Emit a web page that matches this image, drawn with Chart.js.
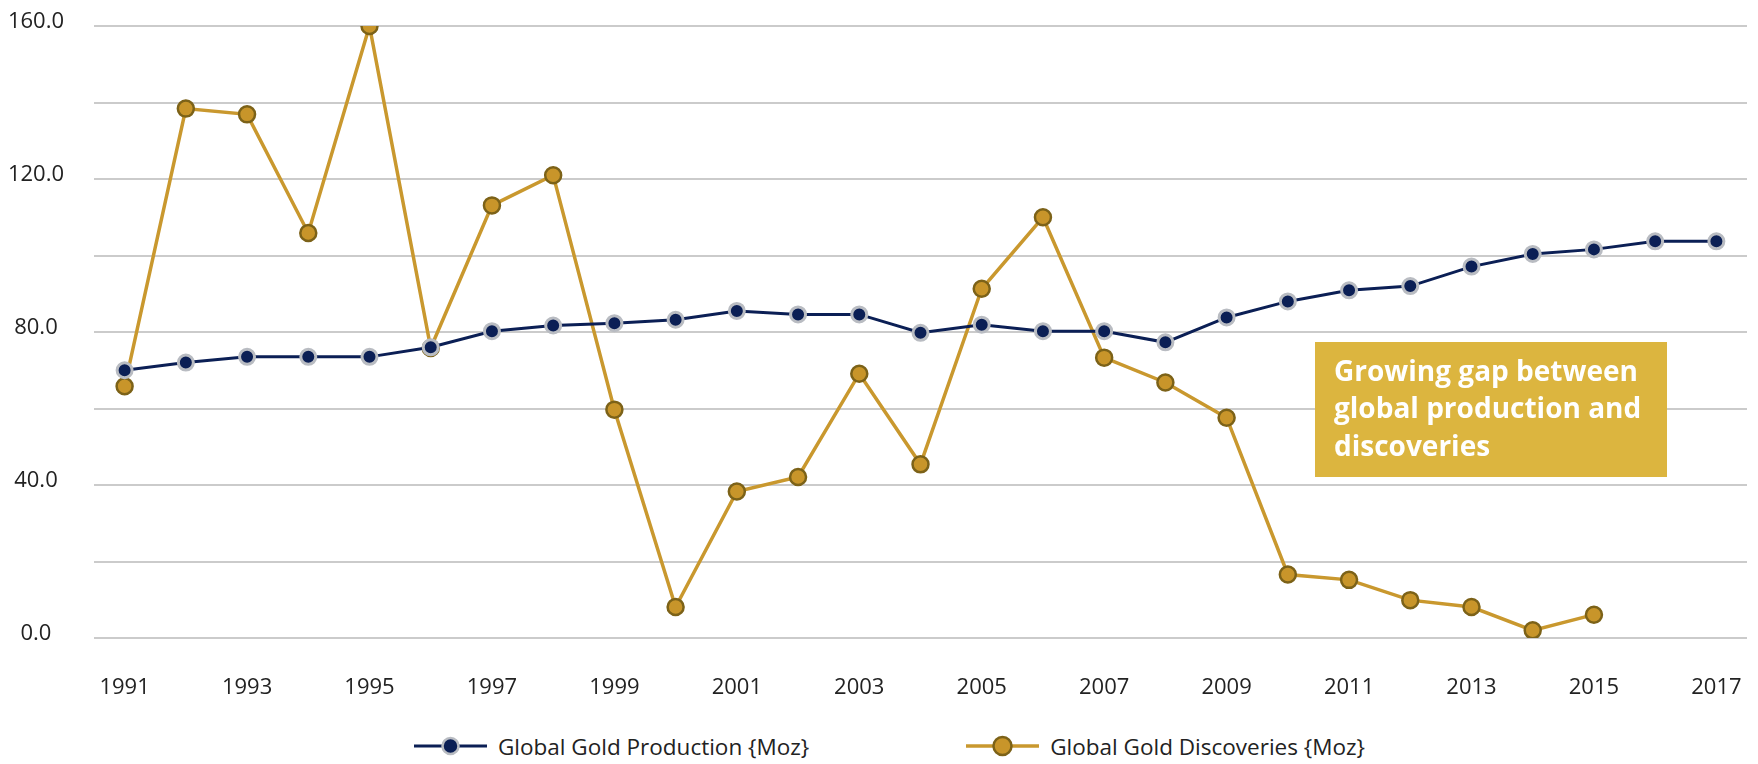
<!DOCTYPE html>
<html>
<head>
<meta charset="utf-8">
<script src="https://cdn.jsdelivr.net/npm/chart.js@4.4.1/dist/chart.umd.min.js"></script>
<style>
html, body { margin: 0; padding: 0; background: #fff; }
#wrap { position: relative; width: 1758px; height: 764px; font-family: "Open Sans", sans-serif; }
#box { position: absolute; left: 0; top: 0; width: 1758px; height: 716px; }
#legend { position: absolute; left: 0; top: 731px; width: 1758px; height: 30px;
  display: flex; justify-content: center; align-items: center; gap: 157px; padding-left: 21px; box-sizing: border-box;
  font-size: 22.5px; color: #222; }
#legend .item { display: flex; align-items: center; }
#legend canvas { margin-right: 11px; }
</style>
</head>
<body>
<div id="wrap">
  <div id="box"><canvas id="chart1"></canvas></div>
  <div id="legend"></div>
</div>
<script>
const years = ['1991', '1992', '1993', '1994', '1995', '1996', '1997', '1998', '1999', '2000',
    '2001', '2002', '2003', '2004', '2005', '2006', '2007', '2008', '2009', '2010',
    '2011', '2012', '2013', '2014', '2015', '2016', '2017'];

// Global Gold Production {Moz}
const production = [70.0, 72.0, 73.5, 73.5, 73.5, 76.0, 80.2, 81.7, 82.3, 83.2,
    85.5, 84.6, 84.6, 79.8, 81.9, 80.2, 80.2, 77.3, 83.8, 88.0,
    90.9, 92.0, 97.1, 100.4, 101.6, 103.7, 103.7];

// Global Gold Discoveries {Moz} (no figure for 2016 / 2017)
const discoveries = [65.8, 138.4, 136.9, 105.9, 160.0, 75.8, 113.1, 121.0, 59.7, 8.1,
    38.3, 42.1, 69.1, 45.4, 91.3, 110.0, 73.3, 66.8, 57.6, 16.6,
    15.2, 9.9, 8.1, 2.0, 6.1, null, null];

const seriesNames = ['Global Gold Production {Moz}', 'Global Gold Discoveries {Moz}'];
const yMax = 160;
const yLabelStep = 40;
const noteLines = ['Growing gap between', 'global production and', 'discoveries'];

const navy = '#0b1f55';
const gold = '#c9982e';

function legendMarker(lineColor, fill, border, radius, lineWidth) {
    const c = document.createElement('canvas');
    c.width = 73;
    c.height = 24;
    const g = c.getContext('2d');
    g.strokeStyle = lineColor;
    g.lineWidth = lineWidth;
    g.beginPath();
    g.moveTo(0, 12);
    g.lineTo(73, 12);
    g.stroke();
    g.beginPath();
    g.arc(36.5, 12, radius, 0, Math.PI * 2);
    g.fillStyle = fill;
    g.fill();
    g.lineWidth = 2.5;
    g.strokeStyle = border;
    g.stroke();
    return c;
}

// text box on the right
const noteBox = {
    id: 'noteBox',
    afterDatasetsDraw(chart) {
        const ctx = chart.ctx;
        ctx.save();
        ctx.fillStyle = '#dcb53f';
        ctx.fillRect(1315, 342, 352, 135);
        ctx.fillStyle = '#ffffff';
        ctx.font = 'bold 28px "Open Sans"';
        ctx.textBaseline = 'middle';
        noteLines.forEach((t, i) => ctx.fillText(t, 1334, 373 + i * 37.5));
        ctx.restore();
    }
};

Chart.defaults.font.family = '"Open Sans", sans-serif';
Chart.defaults.font.size = 22;
Chart.defaults.color = '#222';

const chart1 = new Chart(document.getElementById('chart1'), {
    type: 'line',
    data: {
        labels: years,
        datasets: [{
            label: seriesNames[0],
            data: production,
            borderColor: navy,
            borderWidth: 3,
            pointRadius: 7.5,
            pointBorderWidth: 3,
            pointBackgroundColor: navy,
            pointBorderColor: '#b9bcc2',
            tension: 0
        }, {
            label: seriesNames[1],
            data: discoveries,
            borderColor: gold,
            borderWidth: 3.5,
            pointRadius: 8,
            pointBorderWidth: 2.5,
            pointBackgroundColor: '#c8952a',
            pointBorderColor: '#7c6218',
            tension: 0
        }]
    },
    options: {
        responsive: true,
        maintainAspectRatio: false,
        animation: false,
        layout: {
            padding: {left: 0, right: 11, top: 26, bottom: 0}
        },
        plugins: {
            legend: {display: false},
            tooltip: {enabled: false}
        },
        scales: {
            x: {
                offset: true,
                grid: {display: false, drawTicks: false},
                border: {display: false},
                ticks: {
                    autoSkip: false,
                    maxRotation: 0,
                    padding: 37,
                    callback: (v, i) => i % 2 === 0 ? years[i] : ''
                },
                afterFit: scale => {
                    scale.height = 78;
                    scale.paddingLeft = 0;
                    scale.paddingRight = 0;
                }
            },
            y: {
                min: 0,
                max: yMax,
                grid: {color: '#cbcbcb', lineWidth: 2, drawTicks: false},
                border: {display: false},
                ticks: {
                    stepSize: 20,
                    padding: 30,
                    crossAlign: 'center',
                    labelOffset: -4,
                    callback: v => v % yLabelStep === 0 ? v.toFixed(1) : ''
                },
                afterFit: scale => {
                    scale.width = 94;
                    scale.paddingTop = 0;
                    scale.paddingBottom = 0;
                }
            }
        }
    },
    plugins: [noteBox]
});

// legend with line + marker, like the original
const markers = [
    legendMarker(navy, navy, '#b9bcc2', 8, 3),
    legendMarker(gold, '#c8952a', '#7c6218', 9, 3.5)
];
const legendEl = document.getElementById('legend');
chart1.data.datasets.forEach((ds, i) => {
    const item = document.createElement('div');
    item.className = 'item';
    item.appendChild(markers[i]);
    const span = document.createElement('span');
    span.textContent = ds.label;
    item.appendChild(span);
    legendEl.appendChild(item);
});
</script>
</body>
</html>
